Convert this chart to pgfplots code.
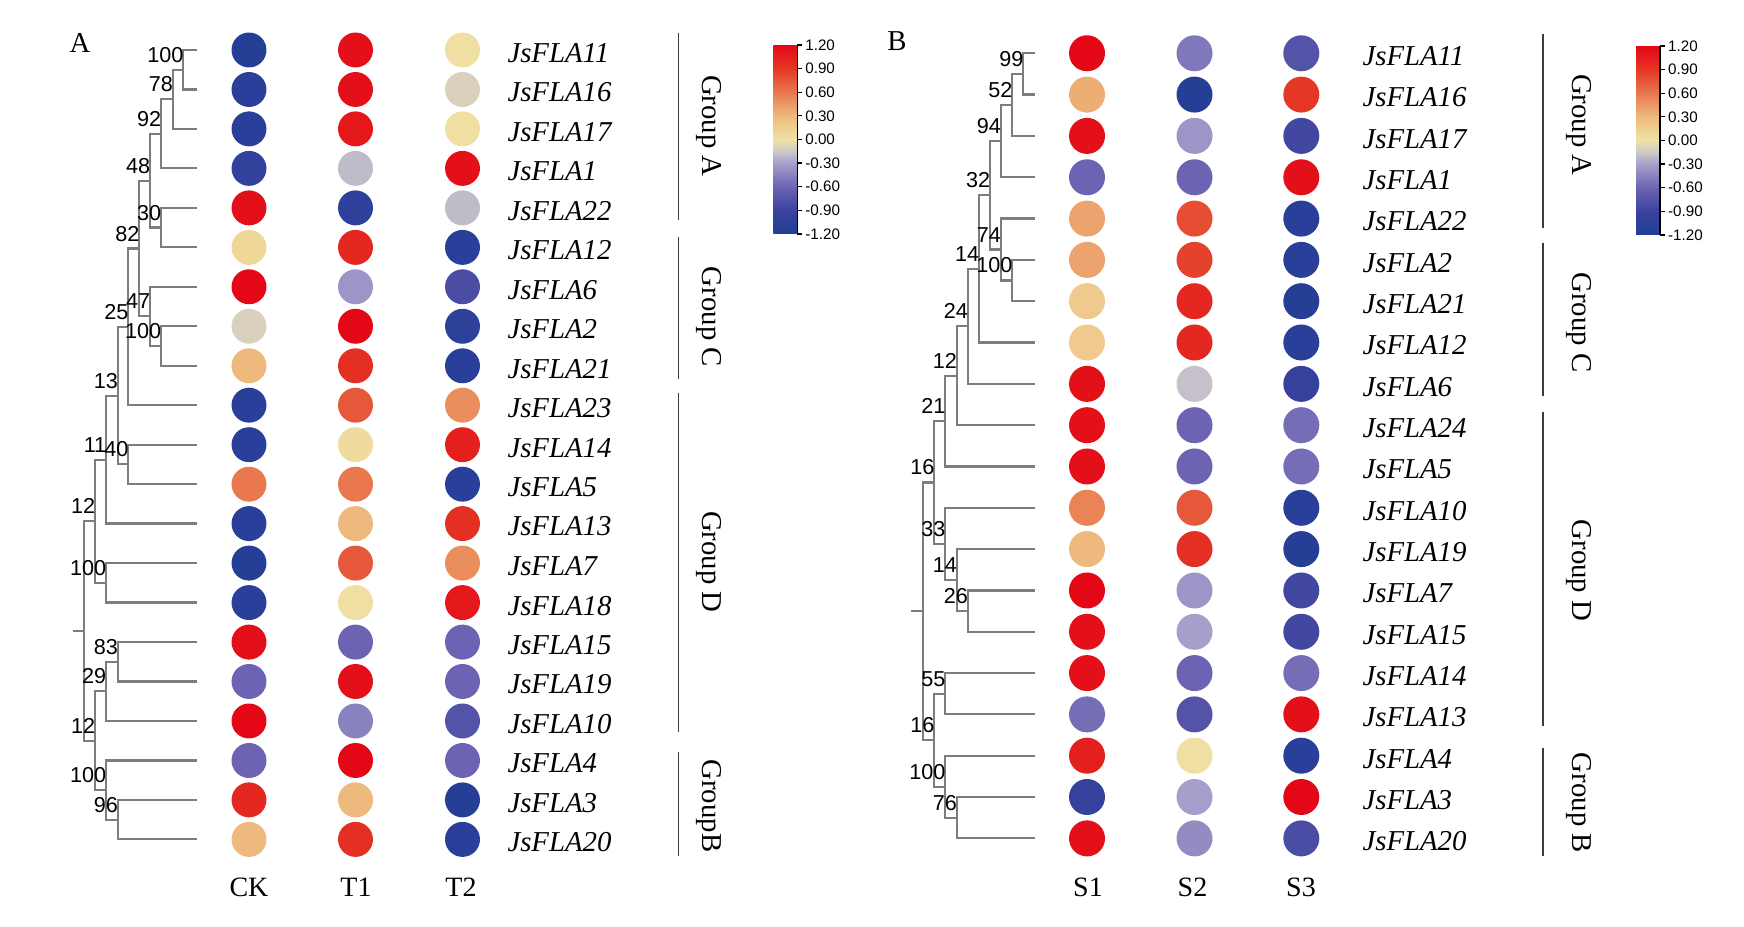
\documentclass[border=0pt]{standalone}
\usepackage{pgfplots}
\pgfplotsset{compat=1.18}
\usepackage{pgfplotstable}
\usepackage{fontspec}
\setmainfont{Liberation Serif}
\newfontfamily\arialf{Liberation Sans}

\definecolor{treegray}{RGB}{125,125,125}
\definecolor{brk}{RGB}{60,60,60}

\pgfplotsset{
  colormap={fla}{rgb255(0cm)=(33,62,150) rgb255(2cm)=(58,66,158) rgb255(4cm)=(108,100,178)
    rgb255(6cm)=(165,160,203) rgb255(7cm)=(205,200,200) rgb255(8cm)=(240,226,165)
    rgb255(10cm)=(238,185,125) rgb255(12cm)=(233,120,78) rgb255(14cm)=(228,55,38)
    rgb255(16cm)=(228,8,22)},
  tree/.style={color=treegray, line width=0.55pt},
  grp/.style={color=brk, line width=0.4pt},
  dot/.style={scatter, only marks, mark=*, mark size=#1, point meta=explicit,
    scatter/use mapped color={draw=mapped color, fill=mapped color}},
  panel/.style={scale only axis, width=436pt, height=231.75pt,
    xmin=0, xmax=1744, ymin=0, ymax=927, y dir=reverse, hide axis, clip=false,
    colormap name=fla, point meta min=-1.2, point meta max=1.2, colorbar},
  cbar/.style n args={2}{at={(parent axis.north west)}, anchor=north west,
    xshift=#1, yshift=#2, scale only axis, width=6pt, height=47.25pt,
    y dir=normal, axis x line=none, axis y line*=right,
    ytick={-1.2,-0.9,-0.6,-0.3,0,0.3,0.6,0.9,1.2},
    yticklabels={-1.20,-0.90,-0.60,-0.30,0.00,0.30,0.60,0.90,1.20},
    yticklabel style={font=\arialf\fontsize{3.8}{4}\selectfont, inner sep=0.6pt},
    tick align=outside, major tick length=1.2pt,
    every tick/.style={black, line width=0.3pt},
    axis line style={black, line width=0.35pt}},
}

% bracket of one tree node: node x, child 1 (x,y), child 2 (x,y)
\newcommand{\br}[5]{\addplot[tree] coordinates {(#2,#3) (#1,#3) (#1,#5) (#4,#5)};}
\newcommand{\bs}[3]{\node[anchor=east, inner sep=0pt, font=\arialf\fontsize{5.4}{6}\selectfont] at (axis cs:#1,#2) {#3};}

% panel A: row y, CK, T1, T2, gene
\pgfplotstableread{
y      ck     t1     t2     gene
50.0  -1.15   1.15   0.02   JsFLA11
89.5  -1.10   1.15  -0.10   JsFLA16
128.9 -1.10   1.10   0.02   JsFLA17
168.4 -1.00  -0.20   1.15   JsFLA1
207.9  1.15  -1.05  -0.20   JsFLA22
247.4  0.08   1.00  -1.10   JsFLA12
286.8  1.20  -0.35  -0.80   JsFLA6
326.3 -0.10   1.20  -1.05   JsFLA2
365.8  0.30   0.95  -1.10   JsFLA21
405.2 -1.10   0.75   0.50   JsFLA23
444.7 -1.10   0.05   1.05   JsFLA14
484.2  0.60   0.60  -1.10   JsFLA5
523.6 -1.10   0.30   0.95   JsFLA13
563.1 -1.15   0.75   0.50   JsFLA7
602.6 -1.10   0.02   1.10   JsFLA18
642.1  1.15  -0.60  -0.60   JsFLA15
681.5 -0.60   1.15  -0.60   JsFLA19
721.0  1.20  -0.45  -0.75   JsFLA10
760.5 -0.60   1.20  -0.60   JsFLA4
799.9  1.00   0.30  -1.15   JsFLA3
839.4  0.30   0.95  -1.10   JsFLA20
}\tabA

% panel B: row y, S1, S2, S3, gene
\pgfplotstableread{
y      s1     s2     s3     gene
53.3   1.20  -0.50  -0.75   JsFLA11
94.6   0.35  -1.15   0.90   JsFLA16
135.9  1.15  -0.35  -0.85   JsFLA17
177.3 -0.60  -0.60   1.15   JsFLA1
218.6  0.40   0.80  -1.10   JsFLA22
259.9  0.40   0.85  -1.10   JsFLA2
301.2  0.18   1.00  -1.15   JsFLA21
342.5  0.18   1.00  -1.10   JsFLA12
383.9  1.15  -0.18  -0.95   JsFLA6
425.2  1.15  -0.60  -0.55   JsFLA24
466.5  1.15  -0.60  -0.55   JsFLA5
507.8  0.55   0.75  -1.10   JsFLA10
549.1  0.30   0.95  -1.15   JsFLA19
590.5  1.20  -0.35  -0.85   JsFLA7
631.8  1.15  -0.30  -0.85   JsFLA15
673.1  1.15  -0.60  -0.55   JsFLA14
714.4 -0.55  -0.75   1.15   JsFLA13
755.7  1.05   0.02  -1.10   JsFLA4
797.0 -0.95  -0.30   1.20   JsFLA3
838.4  1.15  -0.40  -0.80   JsFLA20
}\tabB

\begin{document}
\begin{tikzpicture}
% ---------------- panel A ----------------
\begin{axis}[panel, at={(0,0)}, anchor=south west,
  colorbar style={cbar={184.8pt}{-11.25pt}}]
\addplot[draw=none] coordinates {(0,0) (1744,927)};
% tree
\br{183.3}{196.7}{50.0}{196.7}{89.5}
\br{172.7}{183.3}{69.7}{196.7}{128.9}
\br{161}{172.7}{99.3}{196.7}{168.4}
\br{161}{196.7}{207.9}{196.7}{247.4}
\br{150}{161}{133.9}{161}{227.6}
\br{161}{196.7}{326.3}{196.7}{365.8}
\br{150}{196.7}{286.8}{161}{346.0}
\br{139.3}{150}{180.7}{150}{316.4}
\br{128.3}{139.3}{248.6}{196.7}{405.2}
\br{128.3}{196.7}{444.7}{196.7}{484.2}
\br{117.7}{128.3}{326.9}{128.3}{464.4}
\br{106}{117.7}{395.7}{196.7}{523.6}
\br{106}{196.7}{563.1}{196.7}{602.6}
\br{95}{106}{459.7}{106}{582.8}
\br{117.7}{196.7}{642.1}{196.7}{681.5}
\br{106}{117.7}{661.8}{196.7}{721.0}
\br{117.7}{196.7}{799.9}{196.7}{839.4}
\br{106}{196.7}{760.5}{117.7}{819.7}
\br{95}{106}{691.4}{106}{790.1}
\br{84}{95}{521.3}{95}{740.7}
\addplot[tree] coordinates {(72.7,631) (84,631)};
% bootstrap values
\bs{184.3}{54.7}{100}
\bs{173.7}{84.3}{78}
\bs{162}{118.9}{92}
\bs{162}{212.6}{30}
\bs{151}{165.7}{48}
\bs{162}{331}{100}
\bs{151}{301.4}{47}
\bs{140.3}{233.6}{82}
\bs{129.3}{311.9}{25}
\bs{129.3}{449.4}{40}
\bs{118.7}{380.7}{13}
\bs{107}{444.7}{11}
\bs{107}{567.8}{100}
\bs{96}{506.3}{12}
\bs{118.7}{646.8}{83}
\bs{107}{676.4}{29}
\bs{118.7}{804.7}{96}
\bs{107}{775.1}{100}
\bs{96}{725.7}{12}
% expression circles
\addplot[dot=4.17pt] table[x expr=249, y=y, meta=ck] {\tabA};
\addplot[dot=4.17pt] table[x expr=355.5, y=y, meta=t1] {\tabA};
\addplot[dot=4.17pt] table[x expr=462.5, y=y, meta=t2] {\tabA};
% gene names
\addplot[draw=none, nodes near coords, point meta=explicit symbolic,
  nodes near coords style={anchor=west, inner sep=0pt, yshift=-0.75pt,
    font=\itshape\fontsize{7.2}{8}\selectfont}]
  table[x expr=506.7, y=y, meta=gene] {\tabA};
% groups
\addplot[grp] coordinates {(678.3,33.3) (678.3,220)};
\addplot[grp] coordinates {(678.3,237.3) (678.3,379.3)};
\addplot[grp] coordinates {(678.3,393.3) (678.3,732)};
\addplot[grp] coordinates {(678.3,752) (678.3,856.5)};
\node[rotate=-90, font=\fontsize{7.2}{8}\selectfont, inner sep=0pt] at (axis cs:709,126) {Group A};
\node[rotate=-90, font=\fontsize{7.2}{8}\selectfont, inner sep=0pt] at (axis cs:709,317) {Group C};
\node[rotate=-90, font=\fontsize{7.2}{8}\selectfont, inner sep=0pt] at (axis cs:709,562) {Group D};
\node[rotate=-90, font=\fontsize{7.2}{8}\selectfont, inner sep=0pt] at (axis cs:709,806) {GroupB};
% column labels and panel letter
\node[font=\fontsize{7}{8}\selectfont] at (axis cs:249,887) {CK};
\node[font=\fontsize{7}{8}\selectfont] at (axis cs:356,887) {T1};
\node[font=\fontsize{7}{8}\selectfont] at (axis cs:461,887) {T2};
\node[font=\fontsize{7.2}{8}\selectfont] at (axis cs:80,43) {A};
\end{axis}

% ---------------- panel B ----------------
\begin{axis}[panel, at={(0,0)}, anchor=south west,
  colorbar style={cbar={400.5pt}{-11.5pt}}]
\addplot[draw=none] coordinates {(0,0) (1744,927)};
% tree
\br{1023.3}{1035}{53.3}{1035}{94.6}
\br{1012.3}{1023.3}{73.95}{1035}{135.9}
\br{1000.7}{1012.3}{104.9}{1035}{177.3}
\br{1012.3}{1035}{259.9}{1035}{301.2}
\br{1000.7}{1035}{218.6}{1012.3}{280.55}
\br{990}{1000.7}{141.1}{1000.7}{249.6}
\br{979}{990}{195.35}{1035}{342.5}
\br{967.7}{979}{268.9}{1035}{383.9}
\br{956.7}{967.7}{326.4}{1035}{425.2}
\br{945.3}{956.7}{375.8}{1035}{466.5}
\br{967.7}{1035}{590.5}{1035}{631.8}
\br{956.7}{1035}{549.1}{967.7}{611.15}
\br{945.3}{1035}{507.8}{956.7}{580.1}
\br{934.3}{945.3}{421.15}{945.3}{543.95}
\br{945.3}{1035}{673.1}{1035}{714.4}
\br{956.7}{1035}{797.0}{1035}{838.4}
\br{945.3}{1035}{755.7}{956.7}{817.7}
\br{934.3}{945.3}{693.75}{945.3}{786.7}
\br{922.7}{934.3}{482.55}{934.3}{740.2}
\addplot[tree] coordinates {(911,611.4) (922.7,611.4)};
% bootstrap values
\bs{1024.3}{58.95}{99}
\bs{1013.3}{89.9}{52}
\bs{1001.7}{126.1}{94}
\bs{1013.3}{265.55}{100}
\bs{1001.7}{234.6}{74}
\bs{991}{180.35}{32}
\bs{980}{253.9}{14}
\bs{968.7}{311.4}{24}
\bs{957.7}{360.8}{12}
\bs{946.3}{406.15}{21}
\bs{968.7}{596.15}{26}
\bs{957.7}{565.1}{14}
\bs{946.3}{528.95}{33}
\bs{935.3}{467.55}{16}
\bs{946.3}{678.75}{55}
\bs{957.7}{802.7}{76}
\bs{946.3}{771.7}{100}
\bs{935.3}{725.2}{16}
% expression circles
\addplot[dot=4.3pt] table[x expr=1087, y=y, meta=s1] {\tabB};
\addplot[dot=4.3pt] table[x expr=1194.5, y=y, meta=s2] {\tabB};
\addplot[dot=4.3pt] table[x expr=1301.3, y=y, meta=s3] {\tabB};
% gene names
\addplot[draw=none, nodes near coords, point meta=explicit symbolic,
  nodes near coords style={anchor=west, inner sep=0pt, yshift=-0.75pt,
    font=\itshape\fontsize{7.2}{8}\selectfont}]
  table[x expr=1361.7, y=y, meta=gene] {\tabB};
% groups
\addplot[grp] coordinates {(1542.7,34) (1542.7,228)};
\addplot[grp] coordinates {(1542.7,242.7) (1542.7,396)};
\addplot[grp] coordinates {(1542.7,411.7) (1542.7,726)};
\addplot[grp] coordinates {(1542.7,748.5) (1542.7,856.5)};
\node[rotate=-90, font=\fontsize{7.2}{8}\selectfont, inner sep=0pt] at (axis cs:1579,125) {Group A};
\node[rotate=-90, font=\fontsize{7.2}{8}\selectfont, inner sep=0pt] at (axis cs:1579,322.5) {Group C};
\node[rotate=-90, font=\fontsize{7.2}{8}\selectfont, inner sep=0pt] at (axis cs:1579,570.6) {Group D};
\node[rotate=-90, font=\fontsize{7.2}{8}\selectfont, inner sep=0pt] at (axis cs:1579,803) {Group B};
% column labels and panel letter
\node[font=\fontsize{7}{8}\selectfont] at (axis cs:1088,887) {S1};
\node[font=\fontsize{7}{8}\selectfont] at (axis cs:1192.5,887) {S2};
\node[font=\fontsize{7}{8}\selectfont] at (axis cs:1301,887) {S3};
\node[font=\fontsize{7.2}{8}\selectfont] at (axis cs:897,41) {B};
\end{axis}
\end{tikzpicture}
\end{document}
